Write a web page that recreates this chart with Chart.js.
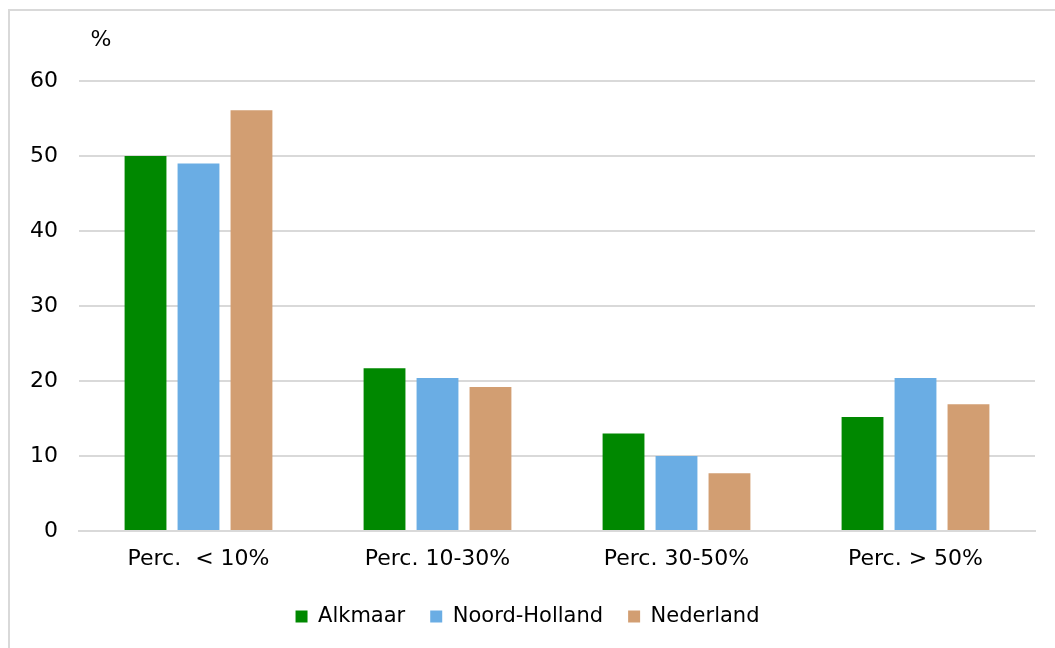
<!DOCTYPE html>
<html>
<head>
<meta charset="utf-8">
<script src="https://cdn.jsdelivr.net/npm/chart.js@4.4.1/dist/chart.umd.min.js"></script>
<style>
  html, body { margin: 0; padding: 0; background: #fff; overflow: hidden; }
  #frame {
    position: absolute; left: 8px; top: 9px; width: 1060px; height: 660px;
    border-left: 2px solid #d9d9d9; border-top: 2px solid #d9d9d9;
  }
  #wrap { position: absolute; left: 0; top: 0; width: 1055px; height: 648px; }
</style>
</head>
<body>
<div id="frame"></div>
<div id="wrap"><canvas id="grafiek"></canvas></div>
<script>
const categorieen = ["Perc.  < 10%", "Perc. 10-30%", "Perc. 30-50%", "Perc. > 50%"];
const alkmaar = [50.0, 21.7, 13.0, 15.2];
const noordHolland = [49.0, 20.4, 10.0, 20.4];
const nederland = [56.1, 19.2, 7.7, 16.9];
const yTicks = [0, 10, 20, 30, 40, 50, 60];

const KLEUREN = {
  alkmaar: "#008800",
  noordHolland: "#6aade4",
  nederland: "#d29e72"
};

const FONT = "'DejaVu Sans', Verdana, sans-serif";

// "%" boven de y-as
const eenheidPlugin = {
  id: "eenheid",
  afterDraw(chart) {
    const { ctx, chartArea } = chart;
    ctx.save();
    ctx.font = "22px " + FONT;
    ctx.fillStyle = "#000";
    ctx.textAlign = "center";
    ctx.textBaseline = "middle";
    ctx.fillText("%", chartArea.left + 22, 40);
    ctx.restore();
  }
};

function dataset(label, data, kleur) {
  return {
    label,
    data,
    backgroundColor: kleur,
    borderWidth: 0,
    categoryPercentage: 0.665,
    barPercentage: 0.79
  };
}

new Chart(document.getElementById("grafiek"), {
  type: "bar",
  data: {
    labels: categorieen,
    datasets: [
      dataset("Alkmaar", alkmaar, KLEUREN.alkmaar),
      dataset("Noord-Holland", noordHolland, KLEUREN.noordHolland),
      dataset("Nederland", nederland, KLEUREN.nederland)
    ]
  },
  options: {
    responsive: true,
    maintainAspectRatio: false,
    animation: false,
    layout: { padding: { left: 20, right: 20, top: 81, bottom: 11 } },
    plugins: {
      tooltip: { enabled: false },
      legend: {
        position: "bottom",
        labels: {
          boxWidth: 12,
          boxHeight: 12,
          padding: 25,
          color: "#000",
          font: { family: FONT, size: 21 }
        }
      }
    },
    scales: {
      x: {
        grid: { display: false },
        border: { color: "#d9d9d9", width: 2 },
        ticks: { color: "#000", padding: 7, font: { family: FONT, size: 22 } },
        afterFit(scale) { scale.height = 50; }
      },
      y: {
        min: 0,
        max: 60,
        afterBuildTicks(scale) { scale.ticks = yTicks.map((v) => ({ value: v })); },
        grid: { color: "#d9d9d9", lineWidth: 2, drawTicks: false },
        border: { display: false },
        ticks: { color: "#000", padding: 21, font: { family: FONT, size: 22 } },
        afterFit(scale) { scale.width = 59; }
      }
    }
  },
  plugins: [eenheidPlugin]
});
</script>
</body>
</html>
